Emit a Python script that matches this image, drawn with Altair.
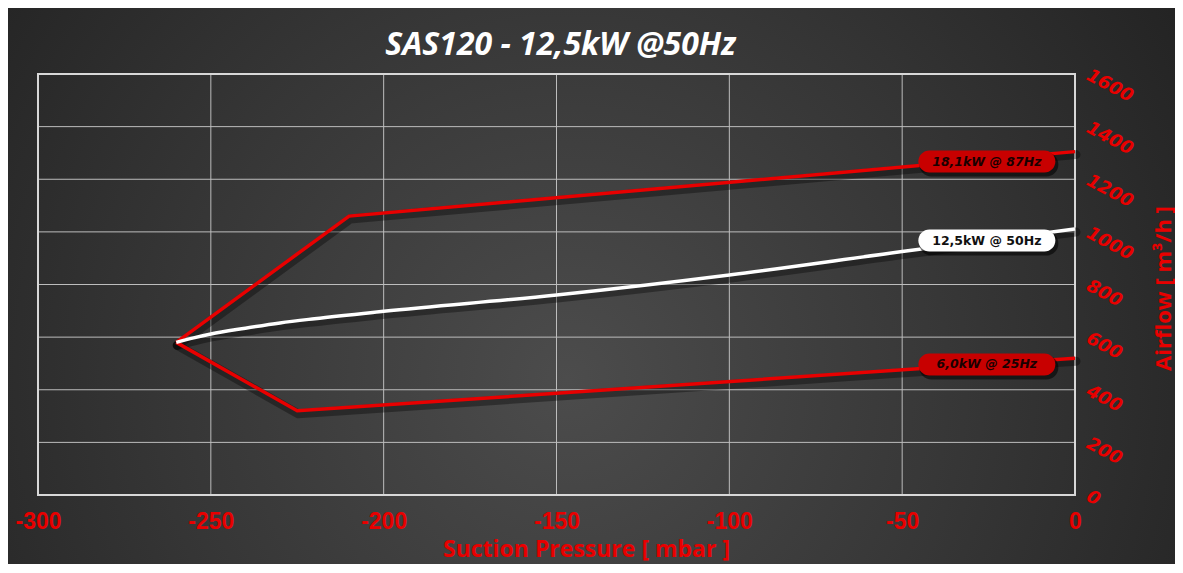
import altair as alt
import pandas as pd

# ---- data ----
chart_title = "SAS120 - 12,5kW @50Hz"
x_ticks = [-300, -250, -200, -150, -100, -50, 0]
y_ticks = [0, 200, 400, 600, 800, 1000, 1200, 1400, 1600]

series_names = ["18,1kW @ 87Hz", "12,5kW @ 50Hz", "6,0kW @ 25Hz"]

high_x = [-260, -210, 0]
high_y = [580, 1060, 1305]

mid_x = [-260, -255, -250, -240, -230, -220, -200, -150, -100, -50, 0]
mid_y = [580, 597, 612, 634, 654, 670, 698, 760, 836, 925, 1011]

low_x = [-260, -225, 0]
low_y = [580, 320, 520]

label_x = [-25.5, -25.5, -25.5]
label_y = [1267, 967, 496]
label_kind = ["red", "white", "red"]

# ---- tables ----
rows = []
for name, xs, ys, kind in [
    (series_names[0], high_x, high_y, "red"),
    (series_names[1], mid_x, mid_y, "white"),
    (series_names[2], low_x, low_y, "red"),
]:
    for i, (xv, yv) in enumerate(zip(xs, ys)):
        rows.append({"series": name, "kind": kind, "i": i, "x": xv, "y": yv})
lines = pd.DataFrame(rows)
labels = pd.DataFrame({"text": series_names, "x": label_x, "y": label_y, "kind": label_kind})
xt = pd.DataFrame({"v": x_ticks})
yt = pd.DataFrame({"v": y_ticks})
one = pd.DataFrame({"k": [0]})

W, H = 1037, 421
PL, PT, PR, PB = 30, 66, 100, 69
RED = "#e80000"

x_scale = alt.Scale(domain=[-300, 0], nice=False, zero=False)
y_scale = alt.Scale(domain=[0, 1600], nice=False, zero=True)

x_axis = alt.Axis(
    values=x_ticks, grid=False, ticks=False, domain=False, labelFlush=False,
    labelOverlap=False, labelColor=RED, labelFont="Liberation Sans",
    labelExpr="'' + datum.value",
    labelFontSize=23, labelFontWeight="bold", labelPadding=15, labelBaseline="top",
    title="Suction Pressure [ mbar ]", titleColor=RED, titleFont="Open Sans",
    titleFontSize=23, titleFontWeight="bold", titleX=548, titleY=54,
    titleAlign="center", titleBaseline="middle", zindex=1,
)
y_axis = alt.Axis(
    orient="right", values=y_ticks, grid=False, ticks=False, domain=False,
    labelExpr="'' + datum.value",
    labelFlush=False, labelOverlap=False, labelColor=RED, labelFont="DejaVu Sans",
    labelFontSize=18, labelFontWeight="bold", labelFontStyle="italic",
    labelAngle=28, labelAlign="left", labelBaseline="middle", labelPadding=12,
    title="Airflow [ m³/h ]", titleColor=RED, titleFont="Open Sans",
    titleFontSize=22, titleFontWeight="bold", titleAngle=270, titleX=88, titleY=214,
    titleAlign="center", titleBaseline="middle", zindex=1,
)

X = lambda f: alt.X(f, type="quantitative", scale=x_scale, axis=x_axis)
Y = lambda f: alt.Y(f, type="quantitative", scale=y_scale, axis=y_axis)

grad = alt.RadialGradient(
    gradient="radial", x1=0.48, y1=0.58, r1=0, x2=0.48, y2=0.58, r2=0.62,
    stops=[alt.GradientStop(color="#4c4c4c", offset=0),
           alt.GradientStop(color="#363636", offset=0.55),
           alt.GradientStop(color="#232323", offset=1)],
)

bg = alt.Chart(one).mark_rect(fill=grad).encode(
    x=alt.value(-PL), x2=alt.value(W + PR), y=alt.value(-PT), y2=alt.value(H + PB)
)

title_mark = alt.Chart(one).mark_text(
    font="Open Sans", fontSize=32, fontStyle="italic", fontWeight="bold",
    color="#ffffff", align="center", baseline="alphabetic",
).encode(x=alt.value(W / 2 + 4), y=alt.value(-19), text=alt.value(chart_title))

vgrid = alt.Chart(xt).mark_rule(color="#bdbdbd", strokeWidth=1).encode(x=X("v"))
hgrid = alt.Chart(yt).mark_rule(color="#bdbdbd", strokeWidth=1).encode(y=Y("v"))

border = alt.Chart(one).mark_rect(fillOpacity=0, stroke="#d8d8d8", strokeWidth=2).encode(
    x=alt.value(0), x2=alt.value(W), y=alt.value(0), y2=alt.value(H)
)

base_lines = alt.Chart(lines)
enc = dict(x=X("x"), y=Y("y"), detail="series:N", order="i:Q")

red_shadow = base_lines.transform_filter("datum.kind == 'red'").mark_line(
    color="black", strokeWidth=9, opacity=0.35, xOffset=1, yOffset=3,
    strokeJoin="round", strokeCap="round").encode(**enc)
white_shadow = base_lines.transform_filter("datum.kind == 'white'").mark_line(
    color="black", strokeWidth=9, opacity=0.35, xOffset=1, yOffset=3,
    interpolate="monotone", strokeCap="round").encode(**enc)
red_lines = base_lines.transform_filter("datum.kind == 'red'").mark_line(
    color=RED, strokeWidth=3.5, strokeJoin="miter").encode(**enc)
white_line = base_lines.transform_filter("datum.kind == 'white'").mark_line(
    color="#ffffff", strokeWidth=3.5, interpolate="monotone").encode(**enc)

base_lab = alt.Chart(labels)
box_shadow = base_lab.mark_rect(
    width=139, height=24, cornerRadius=12, color="black", opacity=0.55,
    xOffset=2, yOffset=3).encode(x=X("x"), y=Y("y"))
box = base_lab.mark_rect(width=137, height=22, cornerRadius=11).encode(
    x=X("x"), y=Y("y"),
    fill=alt.Fill("kind:N", scale=alt.Scale(domain=["red", "white"],
                                             range=["#c80000", "#ffffff"]), legend=None),
)
txt_red = base_lab.transform_filter("datum.kind == 'red'").mark_text(
    font="DejaVu Sans", fontSize=12.5, fontWeight="bold", fontStyle="italic",
    color="#1a0000", align="center", baseline="middle").encode(x=X("x"), y=Y("y"), text="text:N")
txt_white = base_lab.transform_filter("datum.kind == 'white'").mark_text(
    font="DejaVu Sans", fontSize=12.5, fontWeight="bold",
    color="#111111", align="center", baseline="middle").encode(x=X("x"), y=Y("y"), text="text:N")

chart = alt.layer(
    bg, title_mark, vgrid, hgrid, border, red_shadow, white_shadow, red_lines, white_line,
    box_shadow, box, txt_red, txt_white,
).properties(
    width=W, height=H,
    padding={"left": PL, "top": PT, "right": PR, "bottom": PB},
    autosize=alt.AutoSizeParams(type="none"),
).configure(background="#2a2a2a").configure_view(stroke=None)

chart.save("out.html", embed_options={"renderer": "svg", "actions": False})
